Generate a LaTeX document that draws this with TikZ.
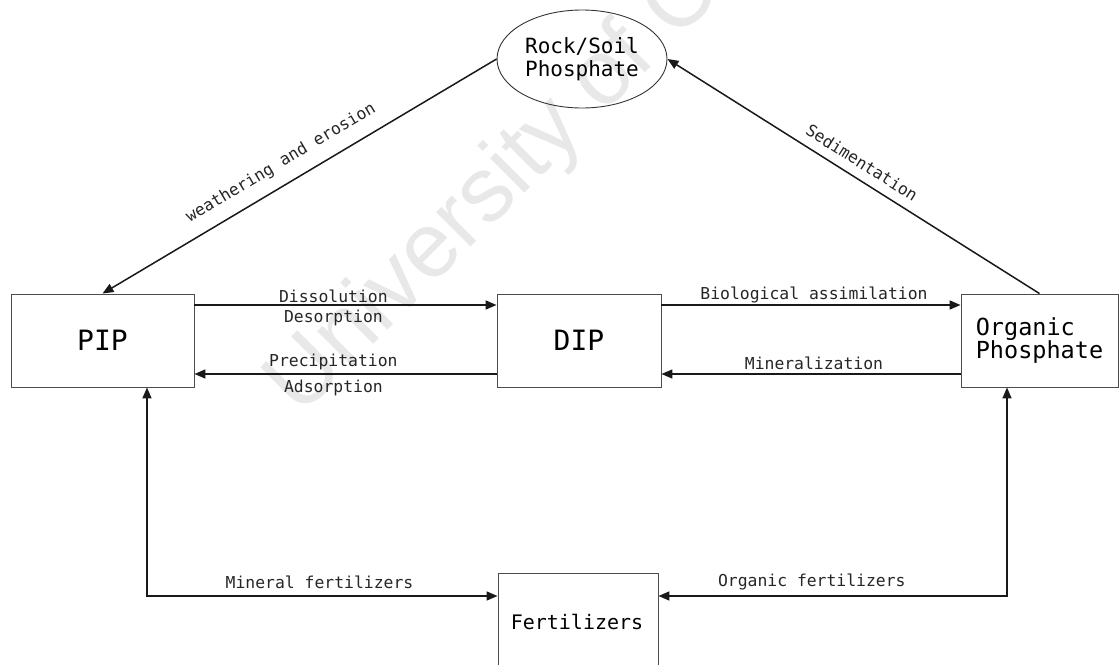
\documentclass[tikz,border=0pt]{standalone}
\usepackage{fontspec}
\setmainfont{DejaVu Sans Mono}
\newfontfamily\wmfont{Liberation Sans}
\usetikzlibrary{arrows.meta,shapes.geometric,calc}
\begin{document}
\begin{tikzpicture}[x=1pt,y=-1pt,
  box/.style={draw=black!70, line width=0.9pt, inner sep=0pt},
  conn/.style={line width=1.5pt, draw=black!90},
  tip/.style={-{Triangle[length=11pt,width=9pt]}},
  tips/.style={{Triangle[length=11pt,width=9pt]}-{Triangle[length=11pt,width=9pt]}},
  lbl/.style={font=\fontsize{16.4}{16.4}\selectfont, inner sep=1pt, text=black!85},
  big/.style={font=\fontsize{28}{28}\selectfont},
]
\clip (0,0) rectangle (1119,664);
\fill[white] (0,0) rectangle (1119,664);
% watermark
\node[font=\wmfont\fontsize{92}{92}\selectfont, text=black!9, rotate=45, anchor=base west, inner sep=0pt] (wm) at (300,418) {University of Cape Town};

% nodes
\node[draw=black!80, line width=0.9pt, ellipse, minimum width=170, minimum height=98, inner sep=0pt, align=center, font=\fontsize{21}{22.5}\selectfont] (rock) at (582,59) {Rock/Soil\\Phosphate};
\node[box, big, minimum width=183, minimum height=93] (pip) at (102.5,340.5) {PIP};
\node[box, big, minimum width=164, minimum height=93] (dip) at (579,340.5) {DIP};
\node[box, minimum width=157, minimum height=93, align=left, font=\fontsize{23.5}{23.5}\selectfont] (org) at (1039.5,340.5) {Organic\\Phosphate};
\node[box, minimum width=160, minimum height=127, anchor=north] (fert) at (578,573) {};
\node[font=\fontsize{20}{20}\selectfont, inner sep=0pt] (fertlbl) at (577,622) {Fertilizers};

% helper coordinates
\coordinate (ya) at (0,305);
\coordinate (yb) at (0,374);
\coordinate (yc) at (0,596);
\coordinate (xa) at (147,0);
\coordinate (xb) at (1007,0);

% connectors
\draw[conn,tip] (rock.west) -- node[lbl, sloped, pos=0.52, above=11pt] {weathering and erosion} (pip.north);
\draw[conn,tip] (org.north) -- node[lbl, sloped, pos=0.5, above=8pt] {Sedimentation} (rock.east);

\draw[conn,tip] (pip.east |- ya) -- node[lbl, pos=0.46, above=1pt] {Dissolution} node[lbl, pos=0.46, below=3pt] {Desorption} (dip.west |- ya);
\draw[conn,tip] (dip.west |- yb) -- node[lbl, pos=0.54, above=2pt] {Precipitation} node[lbl, pos=0.54, below=4pt] {Adsorption} (pip.east |- yb);
\draw[conn,tip] (dip.east |- ya) -- node[lbl, pos=0.51, above=0pt] {Biological assimilation} (org.west |- ya);
\draw[conn,tip] (org.west |- yb) -- node[lbl, pos=0.49, above=3pt] {Mineralization} (dip.east |- yb);

\draw[conn,tips] (xa |- pip.south) |- node[lbl, pos=0.746, above=6pt] {Mineral fertilizers} (fert.west |- yc);
\draw[conn,tips] (xb |- org.south) |- node[lbl, pos=0.78, above=4pt] {Organic fertilizers} (fert.east |- yc);
\end{tikzpicture}
\end{document}
